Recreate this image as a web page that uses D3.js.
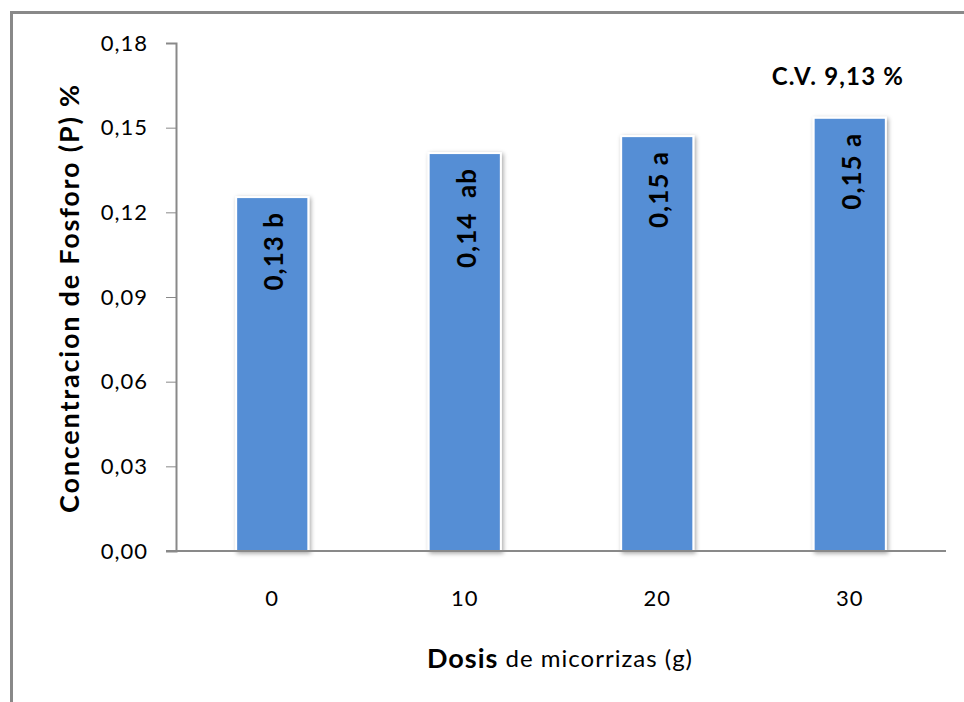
<!DOCTYPE html>
<html>
<head>
<meta charset="utf-8">
<script src="https://cdn.jsdelivr.net/npm/d3@7"></script>
<style>
  body { margin: 0; background: #fff; }
  svg { display: block; font-family: Lato, "Liberation Sans", sans-serif; }
</style>
</head>
<body>
<div id="chart"></div>
<script>
var categories = ["0", "10", "20", "30"];
var values = [0.1254, 0.141, 0.147, 0.1535];
var barLabels = ["0,13 b", "0,14  ab", "0,15 a", "0,15 a"];
var yTicks = [0, 0.03, 0.06, 0.09, 0.12, 0.15, 0.18];
var cvText = "C.V. 9,13 %";

var CHART = (function(d3) {
    var width = 964, height = 702,
        plotLeft = 176, plotRight = 946, plotTop = 43, plotBottom = 551;

    var svg = d3.select("#chart").append("svg")
        .attr("width", width)
        .attr("height", height);

    // shadow for bars
    var filter = svg.append("defs").append("filter").attr("id", "shadow")
        .attr("x", "-20%").attr("y", "-20%").attr("width", "140%").attr("height", "140%");
    filter.append("feDropShadow")
        .attr("dx", 1.5).attr("dy", 1.5).attr("stdDeviation", 2)
        .attr("flood-color", "#000").attr("flood-opacity", 0.35);

    // outer frame (top and left only)
    svg.append("path")
        .attr("d", "M11.5,702 L11.5,12.5 L964,12.5")
        .attr("fill", "none")
        .attr("stroke", "#898989")
        .attr("stroke-width", 3);

    var x = d3.scaleBand()
        .domain(categories)
        .range([plotLeft, plotRight])
        .paddingInner(0.625)
        .paddingOuter(0.3125);

    var y = d3.scaleLinear()
        .domain([0, 0.18])
        .range([plotBottom, plotTop]);

    var fmt = function(d) { return d3.format(".2f")(d).replace(".", ","); };

    // y axis
    var yAxis = svg.append("g")
        .attr("transform", "translate(" + plotLeft + ",0)")
        .call(d3.axisLeft(y).tickValues(yTicks).tickSize(10).tickPadding(18).tickFormat(fmt));
    yAxis.select(".domain").attr("stroke", "#898989").attr("stroke-width", 2);
    yAxis.selectAll(".tick line").attr("stroke", "#898989");
    yAxis.selectAll(".tick text")
        .attr("fill", "#000")
        .style("font-size", "22px")
        .style("letter-spacing", "1px")
        .style("font-family", "Lato, sans-serif");

    // bars
    svg.selectAll(".bar")
        .data(values)
        .enter()
        .append("rect")
        .attr("class", "bar")
        .attr("x", function(d, i) { return x(categories[i]); })
        .attr("y", function(d) { return y(d); })
        .attr("width", x.bandwidth())
        .attr("height", function(d) { return plotBottom - y(d); })
        .attr("fill", "#558ED5")
        .attr("stroke", "#fff")
        .attr("stroke-width", 2)
        .attr("filter", "url(#shadow)");

    // x axis line (extends slightly left of y axis)
    svg.append("line")
        .attr("x1", plotLeft - 10).attr("x2", plotRight)
        .attr("y1", plotBottom).attr("y2", plotBottom)
        .attr("stroke", "#898989")
        .attr("stroke-width", 2);

    // x tick labels
    svg.selectAll(".xlab")
        .data(categories)
        .enter()
        .append("text")
        .attr("class", "xlab")
        .attr("x", function(d) { return x(d) + x.bandwidth() / 2; })
        .attr("y", 597)
        .attr("text-anchor", "middle")
        .attr("dominant-baseline", "central")
        .style("font-size", "22px")
        .style("letter-spacing", "1px")
        .text(function(d) { return d; });

    // bar value labels, rotated
    svg.selectAll(".vlab")
        .data(values)
        .enter()
        .append("text")
        .attr("class", "vlab")
        .attr("transform", function(d, i) {
            return "translate(" + (x(categories[i]) + x.bandwidth() / 2 + 1) + "," + (y(d) + 15) + ") rotate(-90)";
        })
        .attr("text-anchor", "end")
        .attr("dominant-baseline", "central")
        .style("font-size", "26px")
        .style("font-weight", "bold")
        .style("letter-spacing", "1px")
        .style("white-space", "pre")
        .text(function(d, i) { return barLabels[i]; });

    // C.V. annotation
    svg.append("text")
        .attr("x", 838)
        .attr("y", 75)
        .attr("text-anchor", "middle")
        .attr("dominant-baseline", "central")
        .style("font-size", "24px")
        .style("font-weight", "bold")
        .style("letter-spacing", "1.2px")
        .text(cvText);

    // y title
    svg.append("text")
        .attr("transform", "translate(68,298) rotate(-90)")
        .attr("text-anchor", "middle")
        .attr("dominant-baseline", "central")
        .style("font-size", "27px")
        .style("font-weight", "bold")
        .style("letter-spacing", "1.8px")
        .text("Concentracion de Fosforo (P) %");

    // x title
    var xt = svg.append("text")
        .attr("x", 560)
        .attr("y", 657)
        .attr("text-anchor", "middle")
        .attr("dominant-baseline", "central")
        .style("font-size", "24px")
        .style("letter-spacing", "1px");
    xt.append("tspan").style("font-weight", "bold").style("font-size", "27px").text("Dosis");
    xt.append("tspan").text(" de micorrizas (g)");

    return { svg: svg };
})(d3);
</script>
</body>
</html>
